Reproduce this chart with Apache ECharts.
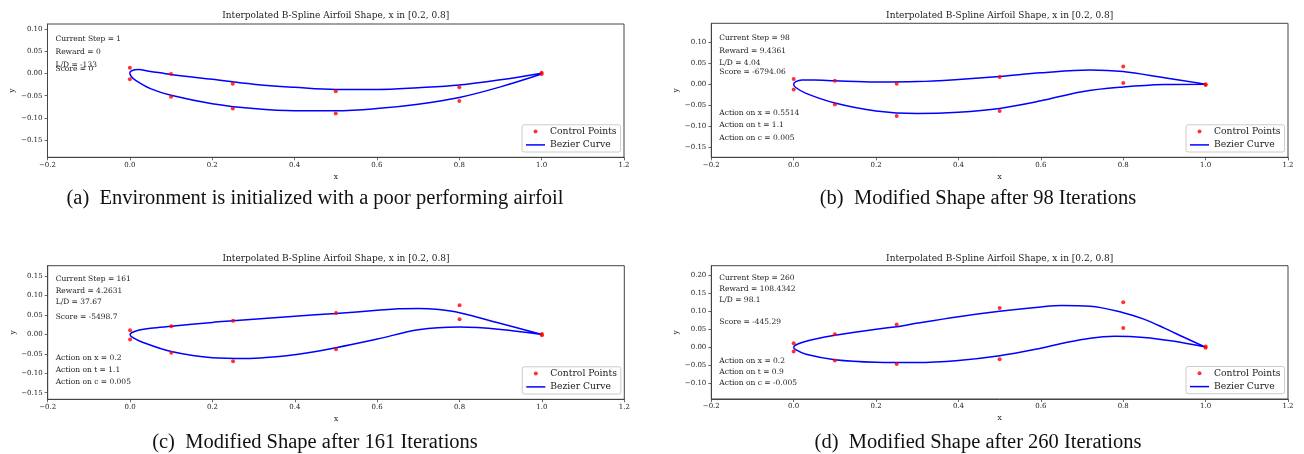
<!DOCTYPE html>
<html>
<head>
<meta charset="utf-8">
<script src="https://cdn.jsdelivr.net/npm/echarts@6/dist/echarts.min.js"></script>
<style>
  html, body { margin: 0; padding: 0; background: #ffffff; }
  #chart { width: 1304px; height: 454px; }
</style>
</head>
<body>
<div id="chart"></div>
<script>
// Control point abscissae, shared by all four airfoils (upper / lower pairs)
const ctrlX = [0, 0, 0.1, 0.1, 0.25, 0.25, 0.5, 0.5, 0.8, 0.8, 1.0, 1.0];

// Control point ordinates for each stage of the optimisation
const ctrlYA = [0.013, -0.013, -0.001, -0.052, -0.023, -0.079, -0.040, -0.090, -0.031, -0.062, 0.002, -0.001];
const ctrlYB = [0.012, -0.013, 0.008, -0.049, 0.001, -0.076, 0.017, -0.064, 0.042, 0.003, 0.000, -0.002];
const ctrlYC = [0.011, -0.013, 0.021, -0.047, 0.035, -0.069, 0.055, -0.038, 0.075, 0.039, 0.001, -0.002];
const ctrlYD = [0.011, -0.012, 0.036, -0.037, 0.063, -0.047, 0.109, -0.034, 0.125, 0.053, 0.002, -0.002];

// Airfoil outlines: trailing edge -> upper surface -> leading edge -> lower surface -> trailing edge
const curveA = [
  [1.0, 0.001], [0.9, -0.014], [0.8, -0.026], [0.7, -0.032], [0.6, -0.036], [0.5, -0.036],
  [0.4, -0.031], [0.3, -0.024], [0.2, -0.013], [0.1, -0.002], [0.05, 0.005], [0.02, 0.009],
  [0.006, 0.007], [0.0, 0.002],
  [0.003, -0.006], [0.015, -0.016], [0.05, -0.034], [0.1, -0.049], [0.2, -0.068], [0.3, -0.079],
  [0.4, -0.084], [0.5, -0.084], [0.6, -0.079], [0.7, -0.069], [0.8, -0.054], [0.9, -0.030], [1.0, -0.001]
];
const curveB = [
  [1.0, 0.0], [0.9, 0.015], [0.8, 0.030], [0.72, 0.034], [0.6, 0.027], [0.5, 0.018],
  [0.4, 0.011], [0.3, 0.006], [0.2, 0.005], [0.1, 0.008], [0.05, 0.010], [0.02, 0.010],
  [0.005, 0.006], [0.0, 0.0],
  [0.005, -0.008], [0.03, -0.022], [0.1, -0.045], [0.2, -0.064], [0.3, -0.070], [0.4, -0.067],
  [0.5, -0.058], [0.6, -0.040], [0.7, -0.018], [0.8, -0.007], [0.9, -0.001], [1.0, 0.0]
];
const curveC = [
  [1.0, 0.0], [0.9, 0.028], [0.8, 0.056], [0.75, 0.064], [0.7, 0.067], [0.65, 0.066],
  [0.6, 0.062], [0.5, 0.054], [0.4, 0.047], [0.3, 0.039], [0.25, 0.035], [0.2, 0.031],
  [0.1, 0.021], [0.05, 0.016], [0.02, 0.011], [0.005, 0.005], [0.0, 0.0],
  [0.005, -0.007], [0.03, -0.020], [0.1, -0.044], [0.2, -0.060], [0.28, -0.062], [0.4, -0.052],
  [0.5, -0.034], [0.6, -0.012], [0.7, 0.012], [0.8, 0.019], [0.9, 0.013], [1.0, 0.0]
];
const curveD = [
  [1.0, 0.0], [0.95, 0.026], [0.9, 0.053], [0.85, 0.078], [0.8, 0.096], [0.72, 0.114],
  [0.65, 0.116], [0.6, 0.112], [0.5, 0.100], [0.4, 0.085], [0.3, 0.067], [0.25, 0.057],
  [0.2, 0.050], [0.1, 0.033], [0.05, 0.022], [0.02, 0.013], [0.005, 0.006], [0.0, 0.0],
  [0.005, -0.007], [0.03, -0.020], [0.1, -0.035], [0.2, -0.042], [0.3, -0.043], [0.4, -0.037],
  [0.5, -0.024], [0.6, -0.003], [0.65, 0.010], [0.72, 0.025], [0.78, 0.030], [0.85, 0.027],
  [0.92, 0.017], [1.0, 0.0]
];

// Tick values
const xTicks = [-0.2, 0.0, 0.2, 0.4, 0.6, 0.8, 1.0, 1.2];
const yTicksA = [-0.15, -0.10, -0.05, 0.00, 0.05, 0.10];
const yTicksB = [-0.15, -0.10, -0.05, 0.00, 0.05, 0.10];
const yTicksC = [-0.15, -0.10, -0.05, 0.00, 0.05, 0.10, 0.15];
const yTicksD = [-0.10, -0.05, 0.00, 0.05, 0.10, 0.15, 0.20];

// Y ranges of each panel
const yRangeA = [-0.189, 0.112];
const yRangeB = [-0.175, 0.1455];
const yRangeC = [-0.167, 0.177];
const yRangeD = [-0.1446, 0.227];

// Text shown inside each panel
const notesA = ['Current Step = 1', 'Reward = 0', 'L/D = -133', 'Score = 0'];
const notesB = ['Current Step = 98', 'Reward = 9.4361', 'L/D = 4.04', 'Score = -6794.06',
                'Action on x = 0.5514', 'Action on t = 1.1', 'Action on c = 0.005'];
const notesC = ['Current Step = 161', 'Reward = 4.2631', 'L/D = 37.67', 'Score = -5498.7',
                'Action on x = 0.2', 'Action on t = 1.1', 'Action on c = 0.005'];
const notesD = ['Current Step = 260', 'Reward = 108.4342', 'L/D = 98.1', 'Score = -445.29',
                'Action on x = 0.2', 'Action on t = 0.9', 'Action on c = -0.005'];

const plotTitle = 'Interpolated B-Spline Airfoil Shape, x in [0.2, 0.8]';
const captions = [
  '(a)  Environment is initialized with a poor performing airfoil',
  '(b)  Modified Shape after 98 Iterations',
  '(c)  Modified Shape after 161 Iterations',
  '(d)  Modified Shape after 260 Iterations'
];

// ---- layout of the four panels ----
const panels = [
  { grid: { left: 47.5, top: 24, width: 576.5, height: 133.3 }, ctrlY: ctrlYA, curve: curveA,
    yTicks: yTicksA, yRange: yRangeA, notes: notesA, noteY: [39, 52.3, 64.8, 68.7],
    caption: { x: 315, y: 199 } },
  { grid: { left: 711.3, top: 23.3, width: 576.7, height: 134 }, ctrlY: ctrlYB, curve: curveB,
    yTicks: yTicksB, yRange: yRangeB, notes: notesB, noteY: [37.7, 50.7, 62.7, 72.3, 112.7, 125.3, 137.7],
    caption: { x: 978, y: 199 } },
  { grid: { left: 47.7, top: 265.7, width: 576.6, height: 133.6 }, ctrlY: ctrlYC, curve: curveC,
    yTicks: yTicksC, yRange: yRangeC, notes: notesC, noteY: [279, 290.7, 302.3, 317, 358.3, 370, 381.7],
    caption: { x: 315, y: 443 } },
  { grid: { left: 711.3, top: 265.7, width: 576.7, height: 133.3 }, ctrlY: ctrlYD, curve: curveD,
    yTicks: yTicksD, yRange: yRangeD, notes: notesD, noteY: [278, 289, 300, 322, 361, 372, 383],
    caption: { x: 978, y: 443 } }
];

const SERIF = 'DejaVu Serif';
const INK = '#222222';
const SPINE = '#444444';

function tickText(v, digits) {
  const s = Math.abs(v) < 1e-9 ? (0).toFixed(digits) : v.toFixed(digits);
  return s.replace('-', '\u2212');
}

const grids = [], xAxes = [], yAxes = [], series = [], titles = [], legends = [], graphics = [];

panels.forEach(function (p, i) {
  const g = p.grid;
  grids.push({ left: g.left, top: g.top, width: g.width, height: g.height,
    show: true, borderColor: SPINE, borderWidth: 1, backgroundColor: '#ffffff', containLabel: false });

  xAxes.push({
    type: 'value', gridIndex: i, min: -0.2, max: 1.2, interval: 0.2,
    name: 'x', nameLocation: 'middle', nameGap: 15.5,
    nameTextStyle: { fontFamily: SERIF, fontSize: 7.5, color: INK },
    axisLine: { show: true, onZero: false, lineStyle: { color: SPINE, width: 1 } },
    axisTick: { show: true, inside: false, length: 3, lineStyle: { color: SPINE, width: 0.8 },
      customValues: xTicks },
    axisLabel: { show: true, margin: 4, fontFamily: SERIF, fontSize: 7, color: INK,
      customValues: xTicks, formatter: function (v) { return tickText(v, 1); } },
    splitLine: { show: false }
  });

  yAxes.push({
    type: 'value', gridIndex: i, min: p.yRange[0], max: p.yRange[1],
    name: 'y', nameLocation: 'middle', nameGap: 31,
    nameTextStyle: { fontFamily: SERIF, fontSize: 7.5, color: INK },
    axisLine: { show: true, onZero: false, lineStyle: { color: SPINE, width: 1 } },
    axisTick: { show: true, inside: false, length: 3, lineStyle: { color: SPINE, width: 0.8 },
      customValues: p.yTicks },
    axisLabel: { show: true, margin: 5, fontFamily: SERIF, fontSize: 7, color: INK,
      customValues: p.yTicks, formatter: function (v) { return tickText(v, 2); } },
    splitLine: { show: false }
  });

  series.push({
    name: 'Bezier Curve', type: 'line', xAxisIndex: i, yAxisIndex: i,
    data: p.curve, smooth: 0.35, symbol: 'none', z: 2,
    lineStyle: { color: '#0000ff', width: 1.5 }, itemStyle: { color: '#0000ff' }
  });
  series.push({
    name: 'Control Points', type: 'scatter', xAxisIndex: i, yAxisIndex: i,
    data: ctrlX.map(function (x, k) { return [x, p.ctrlY[k]]; }),
    symbol: 'circle', symbolSize: 4, z: 3, itemStyle: { color: '#ff0000' }
  });

  titles.push({
    text: plotTitle, left: g.left + g.width / 2, top: i < 2 ? 16 : 258.7,
    textAlign: 'center', textVerticalAlign: 'middle', padding: 0,
    textStyle: { fontFamily: SERIF, fontSize: 9, fontWeight: 'normal', color: INK }
  });

  // legend box: first entry carries the frame, second entry sits inside it
  const lx = g.left + g.width - 5 - 97;
  const ly = g.top + g.height - 5 - 27.5;
  legends.push({
    show: true, orient: 'vertical', left: lx, top: ly, selectedMode: false,
    data: [{ name: 'Control Points', icon: 'circle', itemStyle: { color: '#ff0000' } }],
    itemWidth: 19, itemHeight: 4, padding: [2.2, 4, 16, 11.5],
    borderColor: '#cccccc', borderWidth: 1, borderRadius: 2, backgroundColor: 'rgba(255,255,255,0.85)',
    textStyle: { fontFamily: SERIF, fontSize: 9.2, color: INK }
  });
  legends.push({
    show: true, orient: 'vertical', left: lx, top: ly + 15.6, selectedMode: false,
    data: [{ name: 'Bezier Curve', icon: 'rect', itemStyle: { color: '#0000ff' } }],
    itemWidth: 19, itemHeight: 1.5, padding: [0, 3, 0, 4],
    textStyle: { fontFamily: SERIF, fontSize: 9.2, color: INK }
  });

  p.notes.forEach(function (t, k) {
    graphics.push({
      type: 'text', x: g.left + 8, y: p.noteY[k], z: 10,
      style: { text: t, fontFamily: SERIF, fontSize: 7.5, fill: INK,
        textAlign: 'left', textVerticalAlign: 'middle' }
    });
  });

  graphics.push({
    type: 'text', x: p.caption.x, y: p.caption.y, z: 10,
    style: { text: captions[i], fontFamily: 'Liberation Serif', fontSize: 20.5, fill: '#111111',
      textAlign: 'center', textVerticalAlign: 'middle' }
  });
});

const chart = echarts.init(document.getElementById('chart'), null, { renderer: 'canvas' });
chart.setOption({
  animation: false,
  backgroundColor: '#ffffff',
  title: titles,
  legend: legends,
  grid: grids,
  xAxis: xAxes,
  yAxis: yAxes,
  series: series,
  graphic: graphics
});
</script>
</body>
</html>
